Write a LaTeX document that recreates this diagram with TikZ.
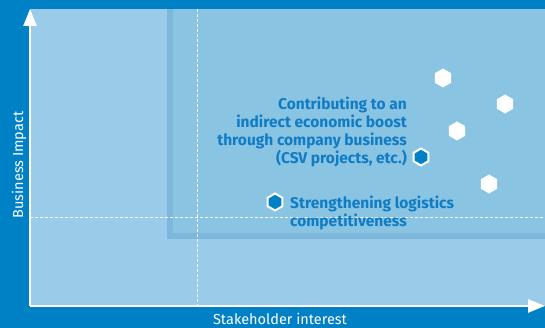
\documentclass[tikz,border=0pt]{standalone}
\usepackage{fontspec}
\setmainfont{Fira Sans}
\usetikzlibrary{ arrows.meta, calc, positioning, shapes.geometric }
\definecolor{bgblue}{RGB}{0,128,197}
\definecolor{panelblue}{RGB}{154,204,233}
\definecolor{zoneblue}{RGB}{138,196,227}
\definecolor{zoneedge}{RGB}{125,184,220}
\definecolor{labelblue}{RGB}{16,124,196}
\tikzset{
axis/.style={white, line width=2.5pt, -{Triangle[width=13pt,length=17pt]}}, % white axes with big heads
grid line/.style={white, line width=0.8pt, dash pattern=on 3pt off 2pt}, % thin dashed quadrant lines
hex/.style={regular polygon, regular polygon sides=6, shape border rotate=30, inner sep=0pt, minimum size=19pt, fill=white},
key hex/.style={hex, fill=bgblue, draw=white, line width=2pt, minimum size=17pt}, % highlighted topics
topic/.style={text=labelblue, inner sep=0pt, font=\bfseries\fontsize{15.5}{18}\selectfont},
axis label/.style={white, inner sep=0pt, font=\fontsize{14.5}{16}\selectfont},
}

\begin{document}
\begin{tikzpicture}[x=1pt, y=1pt]
  \useasboundingbox (0,0) rectangle (545,328);
  \fill[bgblue] (0,0) rectangle (545,328);
  \fill[panelblue] (30,22) rectangle (545,319);
  % focus area
  \fill[zoneedge] (167,89) rectangle (545,319);
  \fill[zoneblue] (173,95) rectangle (545,319);

  \coordinate (o) at (30,22);
  \coordinate (ytip) at (30,319);
  \coordinate (xtip) at (545,22);
  \coordinate (vtop) at (197,319);
  \coordinate (vbot) at (197,22);
  \coordinate (hleft) at (30,111);
  \coordinate (hright) at (545,111);

  \draw[grid line] (vtop) -- (vbot);
  \draw[grid line] (hleft) -- (hright);

  \draw[axis] (o) -- (ytip);
  \draw[axis] (o) -- (xtip);

  \node[axis label, rotate=90, anchor=base] (impact) at (23,163) {Business Impact};
  \node[axis label, anchor=base] (interest) at (280,3.5) {Stakeholder interest};

  \node[hex] (h1) at (443,250) {};
  \node[hex] (h2) at (505,224) {};
  \node[hex] (h3) at (457,197) {};
  \node[hex] (h4) at (489,144) {};
  \node[key hex] (csv) at (421,171) {};
  \node[key hex] (logi) at (275,126) {};

  \node[topic, align=right, anchor=north east] (csvtext) at (407,231)
    {Contributing to an\\indirect economic boost\\through company business\\(CSV projects, etc.)};
  \node[topic, align=left, anchor=north west] (logitext) at (290,132)
    {Strengthening logistics\\competitiveness};
\end{tikzpicture}
\end{document}
